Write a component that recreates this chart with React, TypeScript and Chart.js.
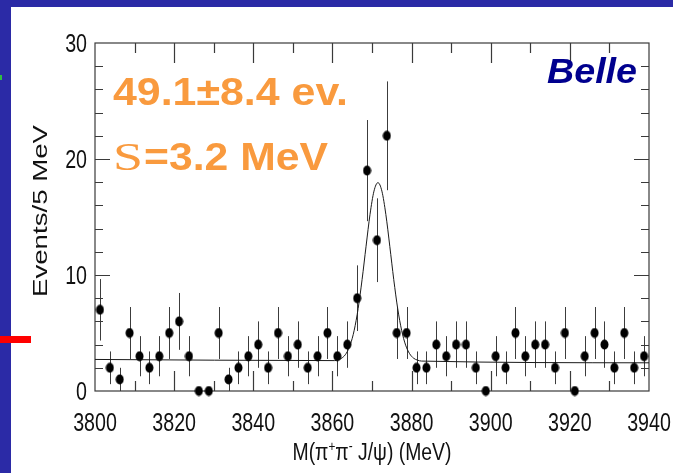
import { useEffect, useRef } from 'react';
import { Chart, registerables } from 'chart.js';

Chart.register(...registerables);

// Bin centres of the 2.5 MeV mass bins (MeV)
const binCenters = [
  3801.25, 3803.75, 3806.25, 3808.75, 3811.25, 3813.75, 3816.25, 3818.75,
  3821.25, 3823.75, 3826.25, 3828.75, 3831.25, 3833.75, 3836.25, 3838.75,
  3841.25, 3843.75, 3846.25, 3848.75, 3851.25, 3853.75, 3856.25, 3858.75,
  3861.25, 3863.75, 3866.25, 3868.75, 3871.25, 3873.75, 3876.25, 3878.75,
  3881.25, 3883.75, 3886.25, 3888.75, 3891.25, 3893.75, 3896.25, 3898.75,
  3901.25, 3903.75, 3906.25, 3908.75, 3911.25, 3913.75, 3916.25, 3918.75,
  3921.25, 3923.75, 3926.25, 3928.75, 3931.25, 3933.75, 3936.25, 3938.75,
];

// Events per bin
const counts = [
  7, 2, 1, 5, 3, 2, 3, 5,
  6, 3, 0, 0, 5, 1, 2, 3,
  4, 2, 5, 3, 4, 2, 3, 5,
  3, 4, 8, 19, 13, 22, 5, 5,
  2, 2, 4, 3, 4, 4, 2, 0,
  3, 2, 5, 3, 4, 4, 2, 5,
  0, 3, 5, 4, 2, 5, 2, 3,
];

// Statistical error of each bin
const countErrors = [
  2.65, 1.41, 1, 2.24, 1.73, 1.41, 1.73, 2.24,
  2.45, 1.73, 0, 0, 2.24, 1, 1.41, 1.73,
  2, 1.41, 2.24, 1.73, 2, 1.41, 1.73, 2.24,
  1.73, 2, 2.83, 4.36, 3.61, 4.69, 2.24, 2.24,
  1.41, 1.41, 2, 1.73, 2, 2, 1.41, 0,
  1.73, 1.41, 2.24, 1.73, 2, 2, 1.41, 2.24,
  0, 1.73, 2.24, 2, 1.41, 2.24, 1.41, 1.73,
];

// Fit curve: signal peak over a flat background
const fitMass = [
  3800, 3860.5, 3861.5, 3862.5, 3863.5, 3864.5, 3865.5, 3866.5, 3867.5,
  3868.5, 3869.5, 3870.5, 3871.5, 3872.5, 3873.5, 3874.5, 3875.5, 3876.5,
  3877.5, 3878.5, 3879.5, 3880.5, 3881.5, 3882.5, 3940,
];
const fitEvents = [
  2.72, 2.62, 2.7, 2.87, 3.25, 3.98, 5.23, 7.11, 9.62,
  12.48, 15.23, 17.23, 17.96, 17.23, 15.22, 12.47, 9.6, 7.09,
  5.21, 3.95, 3.22, 2.83, 2.66, 2.58, 2.43,
];

const xTickLabels = [3800, 3820, 3840, 3860, 3880, 3900, 3920, 3940];
const yTickLabels = [0, 10, 20, 30];

const W = 673;
const H = 473;
const SLIDE_BLUE = '#2B2AA6';
const ORANGE = '#F99A3E';
const BELLE_BLUE = '#00008E';
const FRAME = '#3a3a3a';
const SANS = "'Liberation Sans', Arial, Helvetica, sans-serif";
const SERIF = "'Liberation Serif', 'Times New Roman', serif";

// Draw text squeezed/stretched horizontally so it spans targetWidth
function fitText(
  ctx: CanvasRenderingContext2D,
  text: string,
  x: number,
  y: number,
  targetWidth: number,
  align: 'left' | 'center' | 'right' = 'left',
) {
  const w = ctx.measureText(text).width;
  const sx = targetWidth / w;
  const left = align === 'left' ? x : align === 'center' ? x - targetWidth / 2 : x - targetWidth;
  ctx.save();
  ctx.translate(left, y);
  ctx.scale(sx, 1);
  ctx.textAlign = 'left';
  ctx.fillText(text, 0, 0);
  ctx.restore();
}

function makeDot(): HTMLCanvasElement {
  const c = document.createElement('canvas');
  c.width = 9;
  c.height = 11;
  const g = c.getContext('2d')!;
  g.fillStyle = '#000';
  g.beginPath();
  g.ellipse(4.5, 5.5, 4, 5, 0, 0, Math.PI * 2);
  g.fill();
  return c;
}

const slidePlugin = {
  id: 'slideBackground',
  beforeDraw(chart: any) {
    const ctx = chart.ctx as CanvasRenderingContext2D;
    ctx.save();
    ctx.fillStyle = SLIDE_BLUE;
    ctx.fillRect(0, 0, W, H);
    ctx.fillStyle = '#ffffff';
    ctx.fillRect(11, 7, W - 11, H - 7);
    ctx.fillStyle = '#ff0000';
    ctx.fillRect(0, 336, 31, 7);
    ctx.fillStyle = '#2fbf3f';
    ctx.fillRect(0, 75, 2, 5);
    ctx.restore();
  },
};

const framePlugin = {
  id: 'frameAndErrors',
  beforeDatasetsDraw(chart: any) {
    const ctx = chart.ctx as CanvasRenderingContext2D;
    const xs = chart.scales.x;
    const ys = chart.scales.y;
    const { left, right, top, bottom } = chart.chartArea;
    ctx.save();

    // error bars
    ctx.strokeStyle = '#3c3c3c';
    ctx.lineWidth = 1;
    counts.forEach((c, i) => {
      const e = countErrors[i];
      if (!e) return;
      const px = Math.round(xs.getPixelForValue(binCenters[i])) + 0.5;
      ctx.beginPath();
      ctx.moveTo(px, ys.getPixelForValue(c + e));
      ctx.lineTo(px, ys.getPixelForValue(c - e));
      ctx.stroke();
    });

    // frame
    ctx.strokeStyle = FRAME;
    ctx.lineWidth = 1.2;
    ctx.strokeRect(left, top, right - left, bottom - top);

    // y ticks (inside, both sides)
    for (let v = 2; v < 30; v += 2) {
      const py = Math.round(ys.getPixelForValue(v)) + 0.5;
      const len = v % 10 === 0 ? 15 : 8;
      ctx.beginPath();
      ctx.moveTo(left, py);
      ctx.lineTo(left + len, py);
      ctx.moveTo(right, py);
      ctx.lineTo(right - len, py);
      ctx.stroke();
    }
    // x ticks (inside, top and bottom)
    for (let v = 3810; v < 3940; v += 10) {
      const px = Math.round(xs.getPixelForValue(v)) + 0.5;
      const len = v % 20 === 0 ? 20 : 10;
      ctx.beginPath();
      ctx.moveTo(px, bottom);
      ctx.lineTo(px, bottom - len);
      ctx.moveTo(px, top);
      ctx.lineTo(px, top + len);
      ctx.stroke();
    }
    ctx.restore();
  },
  afterDraw(chart: any) {
    const ctx = chart.ctx as CanvasRenderingContext2D;
    const xs = chart.scales.x;
    const ys = chart.scales.y;
    const { left, right } = chart.chartArea;
    ctx.save();
    ctx.fillStyle = '#111';
    ctx.textBaseline = 'alphabetic';

    // tick labels
    ctx.font = `26px ${SANS}`;
    const labelScale = 43.7 / ctx.measureText('3800').width;
    xTickLabels.forEach((v) => {
      const s = String(v);
      const w = ctx.measureText(s).width * labelScale;
      fitText(ctx, s, xs.getPixelForValue(v), 431, w, 'center');
    });
    yTickLabels.forEach((v) => {
      const s = String(v);
      const w = ctx.measureText(s).width * labelScale;
      fitText(ctx, s, 87, ys.getPixelForValue(v) + 9, w, 'right');
    });

    // x axis title with superscripts
    const parts: [string, boolean][] = [
      ['M(π', false],
      ['+', true],
      ['π', false],
      ['-', true],
      [' J/ψ) (MeV)', false],
    ];
    const mainFont = `23px ${SANS}`;
    const supFont = `14px ${SANS}`;
    let raw = 0;
    parts.forEach(([t, sup]) => {
      ctx.font = sup ? supFont : mainFont;
      raw += ctx.measureText(t).width;
    });
    const tsx = 159 / raw;
    let cx = (left + right) / 2 - 159 / 2;
    parts.forEach(([t, sup]) => {
      ctx.font = sup ? supFont : mainFont;
      const w = ctx.measureText(t).width * tsx;
      fitText(ctx, t, cx, sup ? 451 : 460, w, 'left');
      cx += w;
    });

    // y axis title
    ctx.font = `20px ${SANS}`;
    ctx.save();
    ctx.translate(47, 211);
    ctx.rotate(-Math.PI / 2);
    fitText(ctx, 'Events/5 MeV', 0, 0, 172, 'center');
    ctx.restore();

    // fit results
    ctx.fillStyle = ORANGE;
    ctx.font = `bold 39px ${SANS}`;
    fitText(ctx, '49.1±8.4 ev.', 113, 105, 235, 'left');
    ctx.font = `40px ${SERIF}`;
    fitText(ctx, 'S', 113, 170, 30, 'left');
    ctx.font = `bold 39px ${SANS}`;
    fitText(ctx, '=3.2 MeV', 144, 170, 184, 'left');

    // experiment label
    ctx.fillStyle = BELLE_BLUE;
    ctx.font = `italic bold 35px ${SANS}`;
    fitText(ctx, 'Belle', 547, 83, 90, 'left');

    ctx.restore();
  },
};

export default function App() {
  const canvasRef = useRef<HTMLCanvasElement | null>(null);

  useEffect(() => {
    const canvas = canvasRef.current;
    if (!canvas) return;
    const dot = makeDot();
    const chart = new Chart(canvas, {
      type: 'scatter',
      data: {
        datasets: [
          {
            type: 'line',
            data: fitMass.map((m, i) => ({ x: m, y: fitEvents[i] })),
            borderColor: '#1a1a1a',
            borderWidth: 1,
            pointRadius: 0,
            cubicInterpolationMode: 'monotone',
            fill: false,
            order: 2,
          } as any,
          {
            type: 'scatter',
            data: binCenters.map((m, i) => ({ x: m, y: counts[i] })),
            pointStyle: dot as any,
            pointRadius: 5,
            backgroundColor: '#000',
            borderWidth: 0,
            clip: false as any,
            order: 1,
          } as any,
        ],
      },
      options: {
        responsive: false,
        animation: false,
        devicePixelRatio: 1,
        layout: { padding: { left: 0, right: 24, top: 43, bottom: 0 } },
        plugins: {
          legend: { display: false },
          tooltip: { enabled: false },
        },
        scales: {
          x: {
            type: 'linear',
            min: 3800,
            max: 3940,
            grid: { display: false },
            border: { display: false },
            ticks: { display: false, stepSize: 20 },
            afterFit: (s: any) => {
              s.height = 82;
            },
          },
          y: {
            type: 'linear',
            min: 0,
            max: 30,
            grid: { display: false },
            border: { display: false },
            ticks: { display: false, stepSize: 10 },
            afterFit: (s: any) => {
              s.width = 95;
            },
          },
        },
      },
      plugins: [slidePlugin, framePlugin],
    });
    return () => chart.destroy();
  }, []);

  return (
    <div style={{ position: 'fixed', left: 0, top: 0, width: W, height: H }}>
      <canvas ref={canvasRef} width={W} height={H} style={{ width: W, height: H, display: 'block' }} />
    </div>
  );
}
